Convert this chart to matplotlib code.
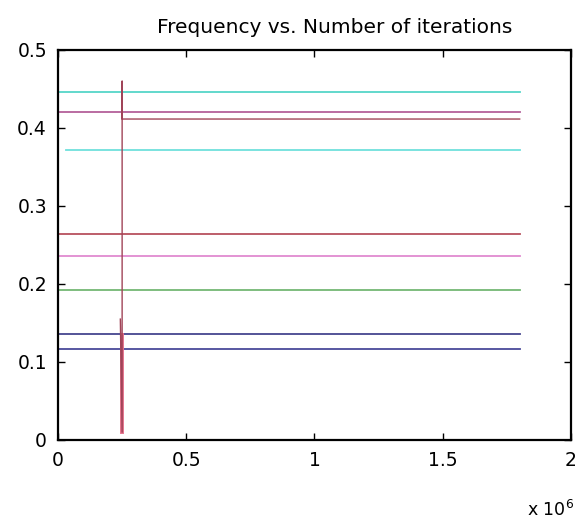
import numpy as np
import matplotlib
matplotlib.use('Agg')
import matplotlib.pyplot as plt
from matplotlib.ticker import FuncFormatter

# final frequency of each run (flat lines over the iteration range)
x_start = [0, 0, 0.03e6, 0, 0, 0, 0, 0]
x_end = 1.8e6
levels = [0.446, 0.4205, 0.372, 0.264, 0.236, 0.192, 0.136, 0.117]
colors = ['#55d6c8', '#b4609a', '#6fe0dc', '#b8505e', '#e08ad0', '#74b874', '#45458f', '#4a4a9a']

# the run that jumps near 0.25e6 iterations
jump_x = [0.243e6, 0.25e6, 0.25e6, 0.25e6, 1.8e6]
jump_y = [0.155, 0.01, 0.46, 0.4115, 0.4115]
spike_x = [0.25e6, 0.25e6]
spike_y = [0.135, 0.01]

fig = plt.figure(figsize=(5.76, 5.23), dpi=100)
ax = fig.add_axes([0.1007, 0.1587, 0.8906, 0.7457])

for xs, lv, c in zip(x_start, levels, colors):
    ax.plot([xs, x_end], [lv, lv], color=c, linewidth=1.3)

ax.plot(spike_x, spike_y, color='#e5708a', linewidth=2.8)
ax.plot(jump_x, jump_y, color='#a04458', linewidth=1.0)

ax.set_xlim(0, 2e6)
ax.set_ylim(0, 0.5)
ax.set_xticks([0, 0.5e6, 1e6, 1.5e6, 2e6])
ax.set_yticks([0, 0.1, 0.2, 0.3, 0.4, 0.5])
ax.xaxis.set_major_formatter(FuncFormatter(lambda v, p: f'{v/1e6:g}'))
ax.yaxis.set_major_formatter(FuncFormatter(lambda v, p: f'{v:g}'))
ax.tick_params(direction='in', length=5, width=1, top=True, right=True,
               labelsize=13.5, pad=8)
for s in ax.spines.values():
    s.set_linewidth(1.6)

ax.set_title('Frequency vs. Number of iterations', fontsize=14.5, pad=12, x=0.54)
fig.text(0.955, 0.005, r'x 10$^6$', fontsize=12.5, ha='center', va='bottom')

fig.savefig('out.png', dpi=100, facecolor='white')
